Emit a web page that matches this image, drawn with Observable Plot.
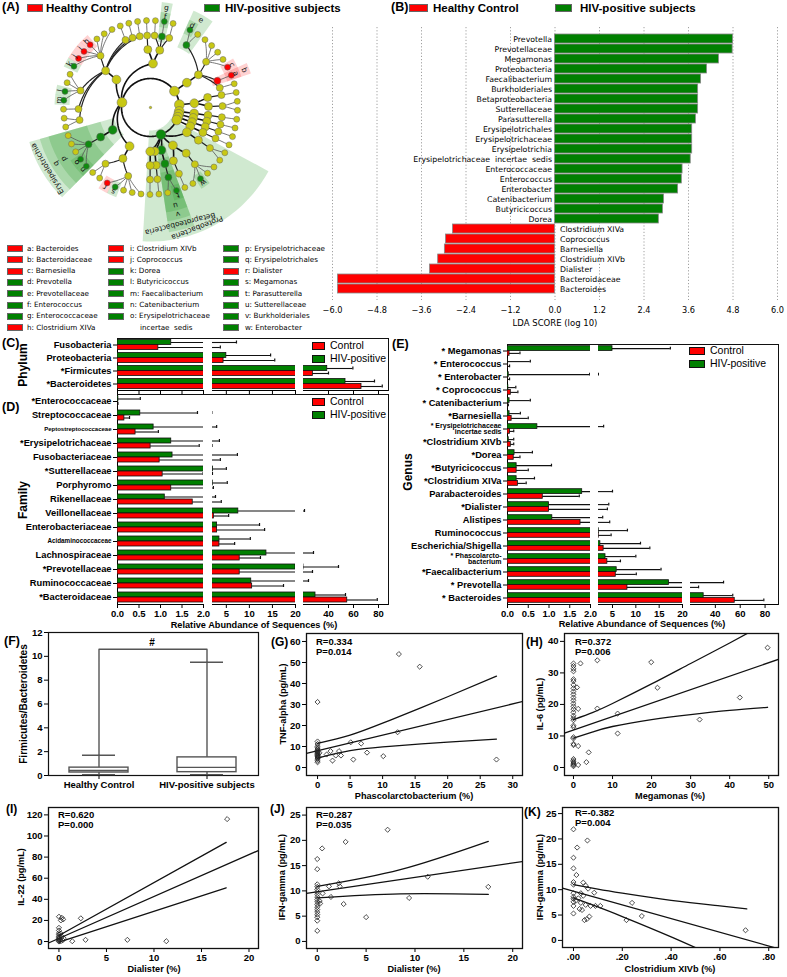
<!DOCTYPE html>
<html><head><meta charset="utf-8">
<script src="https://cdn.jsdelivr.net/npm/d3@7"></script>
<script src="https://cdn.jsdelivr.net/npm/@observablehq/plot@0.6"></script>
<style>
html,body{margin:0;padding:0;background:#fff;}
#fig{position:relative;width:787px;height:977px;overflow:hidden;background:#fff;}
#fig svg{position:absolute;overflow:visible;}
</style></head><body><div id="fig"></div>
<script>
// ================= DATA =================
// ---- Panel A: taxonomy (clockwise order) and LEfSe biomarkers
const cladeTaxa = [
 "Bacteroidetes|Bacteroidia|Bacteroidales|Prevotellaceae|Prevotella",
 "Bacteroidetes|Bacteroidia|Bacteroidales|Prevotellaceae|Paraprevotella",
 "Bacteroidetes|Bacteroidia|Bacteroidales|Porphyromonadaceae|Parabacteroides",
 "Bacteroidetes|Bacteroidia|Bacteroidales|Porphyromonadaceae|Odoribacter",
 "Bacteroidetes|Bacteroidia|Bacteroidales|Porphyromonadaceae|Butyricimonas",
 "Bacteroidetes|Bacteroidia|Bacteroidales|Porphyromonadaceae|Porphyromonas",
 "Bacteroidetes|Bacteroidia|Bacteroidales|Porphyromonadaceae|Barnesiella",
 "Bacteroidetes|Bacteroidia|Bacteroidales|Bacteroidaceae|Bacteroides",
 "Bacteroidetes|Bacteroidia|Bacteroidales|Rikenellaceae|Alistipes",
 "Actinobacteria|Actinobacteria|Bifidobacteriales|Bifidobacteriaceae|Bifidobacterium",
 "Actinobacteria|Actinobacteria|Coriobacteriales|Coriobacteriaceae|Collinsella",
 "Actinobacteria|Actinobacteria|Coriobacteriales|Coriobacteriaceae|Eggerthella",
 "Fusobacteria|Fusobacteriia|Fusobacteriales|Fusobacteriaceae|Fusobacterium",
 "Verrucomicrobia|Verrucomicrobiae|Verrucomicrobiales|Verrucomicrobiaceae|Akkermansia",
 "Synergistetes|Synergistia|Synergistales|Synergistaceae|Cloacibacillus",
 "Lentisphaerae|Lentisphaeria|Victivallales|Victivallaceae|Victivallis",
 "Proteobacteria|Deltaproteobacteria|Desulfovibrionales|Desulfovibrionaceae|Desulfovibrio",
 "Proteobacteria|Deltaproteobacteria|Desulfovibrionales|Desulfovibrionaceae|Bilophila",
 "Proteobacteria|Gammaproteobacteria|Enterobacteriales|Enterobacteriaceae|Escherichia/Shigella",
 "Proteobacteria|Gammaproteobacteria|Enterobacteriales|Enterobacteriaceae|Klebsiella",
 "Proteobacteria|Gammaproteobacteria|Enterobacteriales|Enterobacteriaceae|Enterobacter",
 "Proteobacteria|Gammaproteobacteria|Enterobacteriales|Enterobacteriaceae|Citrobacter",
 "Proteobacteria|Gammaproteobacteria|Pasteurellales|Pasteurellaceae|Haemophilus",
 "Proteobacteria|Betaproteobacteria|Burkholderiales|Sutterellaceae|Parasutterella",
 "Proteobacteria|Betaproteobacteria|Burkholderiales|Sutterellaceae|Sutterella",
 "Proteobacteria|Epsilonproteobacteria|Campylobacterales|Helicobacteraceae|Helicobacter",
 "Proteobacteria|Alphaproteobacteria|Rhodospirillales|Rhodospirillaceae|Azospirillum",
 "Firmicutes|Negativicutes|Selenomonadales|Veillonellaceae|Veillonella",
 "Firmicutes|Negativicutes|Selenomonadales|Veillonellaceae|Megasphaera",
 "Firmicutes|Negativicutes|Selenomonadales|Veillonellaceae|Mitsuokella",
 "Firmicutes|Negativicutes|Selenomonadales|Veillonellaceae|Megamonas",
 "Firmicutes|Negativicutes|Selenomonadales|Veillonellaceae|Dialister",
 "Firmicutes|Negativicutes|Selenomonadales|Acidaminococcaceae|Phascolarctobacterium",
 "Firmicutes|Negativicutes|Selenomonadales|Acidaminococcaceae|Acidaminococcus",
 "Firmicutes|Erysipelotrichia|Erysipelotrichales|Erysipelotrichaceae|Catenibacterium",
 "Firmicutes|Erysipelotrichia|Erysipelotrichales|Erysipelotrichaceae|Erysipelotrichaceae incertae sedis",
 "Firmicutes|Erysipelotrichia|Erysipelotrichales|Erysipelotrichaceae|Holdemania",
 "Firmicutes|Erysipelotrichia|Erysipelotrichales|Erysipelotrichaceae|Turicibacter",
 "Firmicutes|Erysipelotrichia|Erysipelotrichales|Erysipelotrichaceae|Coprobacillus",
 "Firmicutes|Clostridia|Clostridiales|Clostridiaceae|Clostridium sensu stricto",
 "Firmicutes|Clostridia|Clostridiales|Clostridiaceae|SMB53",
 "Firmicutes|Clostridia|Clostridiales|Peptostreptococcaceae|Peptostreptococcus",
 "Firmicutes|Clostridia|Clostridiales|Ruminococcaceae|Faecalibacterium",
 "Firmicutes|Clostridia|Clostridiales|Ruminococcaceae|Butyricicoccus",
 "Firmicutes|Clostridia|Clostridiales|Ruminococcaceae|Ruminococcus",
 "Firmicutes|Clostridia|Clostridiales|Ruminococcaceae|Oscillibacter",
 "Firmicutes|Clostridia|Clostridiales|Lachnospiraceae|Dorea",
 "Firmicutes|Clostridia|Clostridiales|Lachnospiraceae|Coprococcus",
 "Firmicutes|Clostridia|Clostridiales|Lachnospiraceae|Clostridium XIVb",
 "Firmicutes|Clostridia|Clostridiales|Lachnospiraceae|Clostridium XIVa",
 "Firmicutes|Clostridia|Clostridiales|Lachnospiraceae|Roseburia",
 "Firmicutes|Clostridia|Clostridiales|Lachnospiraceae|Blautia",
 "Firmicutes|Clostridia|Clostridiales|Lachnospiraceae|Anaerostipes",
 "Firmicutes|Clostridia|Clostridiales|Eubacteriaceae|Eubacterium",
 "Firmicutes|Clostridia|Clostridiales|Clostridiales Incertae Sedis XIII|Mogibacterium",
 "Firmicutes|Clostridia|Clostridiales|Clostridiales Incertae Sedis XI|Anaerococcus",
 "Firmicutes|Bacilli|Bacillales|Staphylococcaceae|Staphylococcus",
 "Firmicutes|Bacilli|Lactobacillales|Lactobacillaceae|Lactobacillus",
 "Firmicutes|Bacilli|Lactobacillales|Enterococcaceae|Enterococcus",
 "Firmicutes|Bacilli|Lactobacillales|Streptococcaceae|Streptococcus"
];
const healthyMarkers = ["Bacteroides","Bacteroidaceae","Barnesiella","Clostridium XIVa","Clostridium XIVb","Coprococcus","Dialister"];
const hivMarkers = ["Prevotella","Prevotellaceae","Enterococcus","Enterococcaceae","Dorea","Butyricicoccus","Faecalibacterium","Catenibacterium","Erysipelotrichaceae incertae sedis","Erysipelotrichaceae","Erysipelotrichales","Megamonas","Parasutterella","Sutterellaceae","Burkholderiales","Enterobacter","Erysipelotrichia","Betaproteobacteria","Proteobacteria"];
const legendLetters = ["a","b","c","d","e","f","g","h","i","j","k","l","m","n","o","p","q","r","s","t","u","v","w"];
const legendNames = ["Bacteroides","Bacteroidaceae","Barnesiella","Prevotella","Prevotellaceae","Enterococcus","Enterococcaceae","Clostridium XIVa","Clostridium XIVb","Coprococcus","Dorea","Butyricicoccus","Faecalibacterium","Catenibacterium","Erysipelotrichaceae incertae sedis","Erysipelotrichaceae","Erysipelotrichales","Dialister","Megamonas","Parasutterella","Sutterellaceae","Burkholderiales","Enterobacter"];

// ---- Panel B: LDA scores
const ldaNames = ["Prevotella","Prevotellaceae","Megamonas","Proteobacteria","Faecalibacterium","Burkholderiales","Betaproteobacteria","Sutterellaceae","Parasutterella","Erysipelotrichales","Erysipelotrichaceae","Erysipelotrichia","Erysipelotrichaceae  incertae  sedis","Enterococcaceae","Enterococcus","Enterobacter","Catenibacterium","Butyricicoccus","Dorea","Clostridium XIVa","Coprococcus","Barnesiella","Clostridium XIVb","Dialister","Bacteroidaceae","Bacteroides"];
const ldaScores = [4.80,4.79,4.42,4.10,3.94,3.86,3.86,3.86,3.80,3.70,3.70,3.70,3.66,3.44,3.42,3.32,2.94,2.91,2.80,-2.75,-2.94,-2.97,-3.15,-3.37,-5.85,-5.85];
const ldaTicks = [-6.0,-4.8,-3.6,-2.4,-1.2,0,1.2,2.4,3.6,4.8,6.0];

// ---- Panel C: phylum relative abundance (%), mean and mean+SD
const phylumCats = ["Fusobacteria","Proteobacteria","*Firmicutes","*Bacteroidetes"];
const phylumHIV = [1.25, 5.0, 39, 53.6];
const phylumHIVErr = [7.2, 14.6, 59.5, 76.8];
const phylumCtrl = [0.95, 4.4, 27.5, 66.4];
const phylumCtrlErr = [3.7, 15.5, 40, 83];

// ---- Panel D: family
const familyCats = ["*Enterococcaceae","Streptococcaceae","Peptostreptococcaceae","*Erysipelotrichaceae","Fusobacteriaceae","*Sutterellaceae","Porphyromo","Rikenellaceae","Veillonellaceae","Enterobacteriaceae","Acidaminococcaceae","Lachnospiraceae","*Prevotellaceae","Ruminococcaceae","*Bacteroidaceae"];
const familyHIV = [0.02, 0.53, 0.84, 1.25, 1.28, 2.1, 2.05, 1.1, 7.6, 3.0, 3.5, 13.7, 20, 10.4, 29.6];
const familyHIVErr = [0.53, 1.86, 2.9, 3.5, 7.4, 5.0, 5.2, 2.65, 20.8, 12.2, 10.2, 28, 48, 24, 53.6];
const familyCtrl = [0.01, 0.16, 0.42, 0.77, 0.98, 1.05, 1.25, 1.75, 2.3, 3.0, 3.5, 7.9, 7.9, 10.6, 55];
const familyCtrlErr = [0.01, 0.28, 0.95, 1.9, 3.7, 1.99, 2.2, 3.9, 5.5, 13.3, 6.8, 12.4, 27.2, 17.4, 79];

// ---- Panel E: genus
const genusCats = ["* Megamonas","* Enterococcus","* Enterobacter","* Coprococcus","* Catenibacterium","*Barnesiella","* Erysipelotrichaceae\nincertae sedis","*Clostridium XIVb","*Dorea","*Butyricicoccus","*Clostridium XIVa","Parabacteroides","*Dialister","Alistipes","Ruminococcus","Escherichia/Shigella","* Phascolarcto-\nbacterium","*Faecalibacterium","* Prevotella","* Bacteroides"];
const genusHIV = [5.0, 0.01, 0.03, 0.02, 0.05, 0.05, 0.72, 0.03, 0.17, 0.22, 0.22, 1.8, 1.0, 1.08, 2.05, 2.4, 3.5, 5.9, 17.1, 30.6];
const genusHIVErr = [17.4, 0.55, 1.98, 0.2, 0.55, 0.31, 3.1, 0.15, 0.6, 1.06, 0.65, 5.0, 4.2, 2.9, 8.2, 11, 10, 15.4, 46.6, 54];
const genusCtrl = [0.05, 0.005, 0.01, 0.08, 0.005, 0.1, 0.06, 0.08, 0.15, 0.22, 0.25, 0.85, 1.0, 1.76, 2.05, 3.1, 3.9, 5.7, 8.2, 55.6];
const genusCtrlErr = [0.3, 0.05, 0.05, 0.25, 0.02, 0.5, 0.15, 0.15, 0.3, 0.5, 0.45, 1.73, 3.9, 4.4, 4.7, 13, 6.7, 10.1, 26.5, 79];

// ---- Panel F: Firmicutes/Bacteroidetes box plot summary
const fGroups = ["Healthy Control","HIV-positive subjects"];
const fLow = [0.07, 0.07];
const fQ1 = [0.25, 0.28];
const fMed = [0.42, 0.68];
const fQ3 = [0.66, 1.52];
const fHigh = [1.7, 9.5];
const fBracket = 10.6;

// ---- Panels G-K: scatter points [x, y], regression line ends, 95% CI curves
const gPoints = [[0,31.2],[0,12.4],[0,11.2],[0,10.1],[0,9.4],[0,8.8],[0,8.2],[0,7.8],[0,7.4],[0,7.0],[0,6.6],[0,6.2],[0,5.8],[0,5.4],[0,5.0],[0,4.5],[0,4.0],[0,3.2],[0,2.5],[0.2,5.0],[0.3,7.0],[1.4,6.2],[2.0,7.8],[2.3,3.3],[2.8,5.7],[3.3,7.8],[3.6,5.7],[5.1,12.0],[5.5,3.8],[6.7,11.4],[7.6,7.1],[10.1,5.4],[12.3,16.8],[12.5,54],[15.7,48],[27.5,3.8]];
const gFitX = [-1.7, 31.5], gFitY = [6.7, 31.4];
const gBandX = [0,5,10,15,20,27.5], gUpper = [11.5,15.4,21.1,27.3,33.7,43.5], gLower = [4.5,8.0,9.8,11.0,12.1,13.5];

const hPoints = [[0,33],[0,32.2],[0,31.3],[0,30.5],[0,28],[0,27.4],[0,26.2],[0,25.1],[0,24.1],[0,23.2],[0,22.2],[0,21.3],[0,20.3],[0,19.4],[0,18.5],[0,17.5],[0,16.4],[0,15.6],[0,15.0],[0,13.3],[0,12.8],[0,9.6],[0,9.2],[0,7.5],[0,7.1],[0,2.7],[0,2.2],[0,1.8],[0,1.4],[0,1.0],[0,0.7],[0,0.4],[0.9,25.4],[1.8,33],[1.2,18.6],[1.2,6.8],[1.2,0.8],[3.3,1.7],[3.9,4.8],[6.1,34],[6.1,18.7],[11.3,17.1],[11.3,10.8],[19.9,33.4],[21.5,25.3],[32.3,15.2],[42.6,22.2],[49.7,38]];
const hFitX = [-2.3, 52.5], hFitY = [10.9, 34.3];
const hBandX = [0,5,10,20,30,40,49.7], hUpper = [15.2,17.5,20.3,26.5,33,39.5,46], hLower = [9.3,11.3,13.0,15.2,16.8,18.1,19.1];

const iPoints = [[0,23.5],[0,13],[0,10.5],[0,8],[0,6.5],[0,5],[0,4],[0,3],[0,2.2],[0,1.4],[0,0.6],[0,0],[0.2,20],[0.45,21],[0.3,22.5],[0.2,7.5],[0.3,4.5],[0.5,3.2],[0.4,1.2],[0.2,0.3],[1.4,0.3],[2.3,22],[2.8,1.6],[7.2,1.6],[11.3,0.3],[17.7,116]];
const iFitX = [-1.1, 21], iFitY = [-1.4, 86.3];
const iBandX = [0, 17.6], iUpper = [5.7, 94], iLower = [-0.6, 50.9];

const jPoints = [[0,16.3],[0,14.3],[0,11.3],[0,10.8],[0,10.3],[0,9.8],[0,9.3],[0,8.8],[0,8.3],[0,7.8],[0,7.3],[0,6.8],[0,6.3],[0,5.8],[0,5.3],[0,4.8],[0,4.1],[0,2.1],[0.5,18.4],[0.55,9.5],[0.3,7.5],[0.25,8.0],[1.2,10.9],[1.4,8.8],[2.2,11.5],[2.3,10.9],[2.7,7.4],[2.9,19.7],[5.0,4.8],[7.2,22.1],[9.4,8.6],[11.3,12.8],[17.5,10.8]];
const jFitX = [-1.1, 21], jFitY = [9.5, 15.8];
const jBandX = [0, 8.5, 17.5], jUpper = [10.9, 14.2, 19.8], jLower = [8.6, 9.4, 9.3];

const kPoints = [[0,21.9],[0,16.3],[0,14.2],[0,11.5],[0,11.0],[0,9.3],[0,8.6],[0,8.2],[0,7.6],[0,6.8],[0,5.3],[0.015,18.3],[0.057,19.7],[0.012,12.9],[0.04,11.4],[0.05,10.8],[0.06,10.2],[0.03,9.3],[0.085,9.4],[0.04,8.8],[0.02,8.3],[0.01,7.8],[0.03,7.4],[0.05,7.0],[0.07,6.8],[0.09,6.8],[0.11,6.8],[0.025,6.2],[0.035,6.0],[0.045,4.0],[0.055,4.2],[0.065,4.7],[0.217,4.0],[0.24,7.4],[0.28,4.8],[0.705,2.0]];
const kFitX = [-0.045, 0.84], kFitY = [10.3, -1.65];
const kBandX = [0,0.1,0.2,0.4,0.6,0.71], kUpper = [11,10.1,9.3,7.9,6.8,6.2], kLower = [8.4,6.6,4.7,0.7,-3.6,-6.0];

// ================= DRAWING =================
const AR = '"Liberation Sans", Arial, Helvetica, sans-serif';
const DJ = '"DejaVu Sans", Verdana, sans-serif';
const GREEN = "#008000", RED = "#ff0000";
const fig = document.getElementById("fig");

function put(el, x, y) { el.style.position = "absolute"; el.style.left = x + "px"; el.style.top = y + "px"; fig.appendChild(el); return el; }
function txt(s, x, y, o = {}) {
  const d = document.createElement("div");
  d.textContent = s;
  const size = o.size ?? 10, weight = o.weight ?? "bold", fam = o.fam ?? AR, anchor = o.anchor ?? "start";
  d.style.cssText = `position:absolute;left:${x}px;top:${y}px;white-space:pre;font-family:${fam};font-size:${size}px;font-weight:${weight};line-height:1.05;color:#000;`;
  const tx = anchor === "start" ? "0%" : anchor === "middle" ? "-50%" : "-100%";
  d.style.transform = `translate(${tx},-50%)` + (o.rot ? ` rotate(${o.rot}deg)` : "");
  fig.appendChild(d);
  return d;
}
function swatch(x, y, w, h, color, border = "#222") {
  const d = document.createElement("div");
  d.style.cssText = `position:absolute;left:${x}px;top:${y}px;width:${w}px;height:${h}px;background:${color};border:1px solid ${border};box-sizing:border-box;`;
  fig.appendChild(d);
}
function frameBox(x, y, w, h) {
  const d = document.createElement("div");
  d.style.cssText = `position:absolute;left:${x}px;top:${y}px;width:${w}px;height:${h}px;border-top:1px solid #111;border-right:1px solid #111;box-sizing:border-box;`;
  fig.appendChild(d);
}
const PS = (o = {}) => Object.assign({fontFamily: AR, fontSize: "9.5px", fontWeight: "bold", color: "#000", background: "transparent", overflow: "visible"}, o);

// ---------- Panel A: cladogram ----------
(function () {
  const rootObj = {name: "Bacteria", children: []};
  for (const p of cladeTaxa) {
    let n = rootObj;
    for (const part of p.split("|")) {
      let c = n.children.find(d => d.name === part);
      if (!c) { c = {name: part, children: []}; n.children.push(c); }
      n = c;
    }
  }
  const tree = d3.hierarchy(rootObj, d => d.children.length ? d.children : null);
  const nLeaves = tree.leaves().length;
  const step = 360 / nLeaves;
  d3.cluster().size([360 - step, 1]).separation(() => 1)(tree);
  const ringR = [0, 29, 44, 58, 72, 87];
  const nodeR = [1.2, 4.9, 4.4, 4.0, 3.5, 3.0];
  const wedgeOut = [0, 134, 126, 115, 106, 96];
  const labelR = [0, 129, 120, 110, 101, 92];
  const rot = 24;
  const rad = Math.PI / 180;
  const polar = (r, a) => ({x: r * Math.sin(a * rad), y: r * Math.cos(a * rad)});
  const letterOf = new Map(legendNames.map((n, i) => [n, legendLetters[i]]));
  tree.each(n => {
    n.ang = n.x + rot; n.rad = ringR[n.depth];
    const nm = n.data.name;
    n.col = n.depth === 0 ? "yellow" : healthyMarkers.includes(nm) ? "red" : hivMarkers.includes(nm) ? "green" : "yellow";
  });

  const ring = [];
  for (let i = 0; i <= 240; i++) { const p = polar(ringR[1], i * 1.5); ring.push({x: p.x, y: p.y}); }
  const links = [];
  let lid = 0;
  tree.each(n => {
    if (!n.parent || n.parent.depth === 0) return;
    const p = n.parent, id = lid++;
    const K = Math.max(3, Math.ceil(Math.abs(n.ang - p.ang) / 1.2));
    for (let i = 0; i <= K; i++) {
      const t = i / K;
      const q = polar(p.rad + (n.rad - p.rad) * t, p.ang + (n.ang - p.ang) * t);
      links.push({id, x: q.x, y: q.y, lvl: p.depth});
    }
  });
  const wedgesG = [], wedgesR = [], labels = [];
  tree.each(n => {
    if (n.col === "yellow" || n.depth === 0) return;
    const la = n.leaves().map(l => l.ang);
    const a1 = Math.min(...la) - step / 2, a2 = Math.max(...la) + step / 2;
    const rIn = n.rad - 6, rOut = wedgeOut[n.depth];
    const id = n.data.name + n.depth;
    const target = n.col === "green" ? wedgesG : wedgesR;
    const k = Math.max(2, Math.ceil((a2 - a1) / 1.5));
    for (let i = 0; i <= k; i++) { const p = polar(rOut, a1 + (a2 - a1) * i / k); target.push({id, x: p.x, y: p.y}); }
    for (let i = k; i >= 0; i--) { const p = polar(rIn, a1 + (a2 - a1) * i / k); target.push({id, x: p.x, y: p.y}); }
    const lp = polar(labelR[n.depth], n.ang);
    labels.push({x: lp.x, y: lp.y, text: n.depth <= 2 ? n.data.name : (letterOf.get(n.data.name) || ""), rotate: n.ang});
  });
  const nodes = [];
  tree.each(n => {
    const p = polar(n.rad, n.ang);
    nodes.push({x: p.x, y: p.y, r: nodeR[n.depth], fill: n.col === "red" ? RED : n.col === "green" ? "#0f8a0f" : "#c8c814", depth: n.depth});
  });
  nodes.sort((a, b) => b.depth - a.depth);
  const svg = Plot.plot({
    width: 280, height: 240, margin: 0,
    x: {domain: [-150, 130], axis: null},
    y: {domain: [-133, 107], axis: null},
    r: {type: "identity"},
    style: PS({fontFamily: DJ, fontSize: "7.5px", fontWeight: "normal"}),
    marks: [
      Plot.line(wedgesG, {x: "x", y: "y", z: "id", fill: "#2a9d2a", fillOpacity: 0.22, stroke: "none"}),
      Plot.line(wedgesR, {x: "x", y: "y", z: "id", fill: "#ff2020", fillOpacity: 0.2, stroke: "none"}),
      Plot.line(ring, {x: "x", y: "y", stroke: "#111", strokeWidth: 1.7}),
      Plot.line(links.filter(d => d.lvl <= 2), {x: "x", y: "y", z: "id", stroke: "#111", strokeWidth: 1.6}),
      Plot.line(links.filter(d => d.lvl === 3), {x: "x", y: "y", z: "id", stroke: "#222", strokeWidth: 1.2}),
      Plot.line(links.filter(d => d.lvl >= 4), {x: "x", y: "y", z: "id", stroke: "#555", strokeWidth: 0.8}),
      Plot.dot(nodes, {x: "x", y: "y", r: "r", fill: "fill", stroke: "#666", strokeWidth: 0.5}),
      Plot.text(labels, {x: "x", y: "y", text: "text", rotate: "rotate", fill: "#111"})
    ]
  });
  put(svg, 0, 0);
})();

// header A
txt("(A)", 2, 8, {size: 12.5});
swatch(27, 4, 16, 8, RED, "#666");
txt("Healthy Control", 46, 8, {size: 11.5});
swatch(204, 4, 16, 8, GREEN, "#666");
txt("HIV-positive subjects", 225, 8, {size: 11.5});
// legend A
legendLetters.forEach((l, i) => {
  const col = i < 8 ? 0 : i < 15 ? 1 : 2;
  const row = i < 8 ? i : i < 15 ? i - 8 : i - 15;
  const bx = [7, 108, 223][col], tx = [27, 130, 245][col];
  const y = 248.5 + row * 11.3;
  const name = legendNames[i];
  const color = healthyMarkers.includes(name) ? RED : GREEN;
  swatch(bx, y - 3.5, 16, 7, color, "#666");
  const shown = name === "Erysipelotrichaceae incertae sedis" ? "Erysipelotrichaceae" : name;
  txt(l + ": " + shown, tx, y, {size: 7.2, weight: "normal", fam: DJ});
  if (name === "Erysipelotrichaceae incertae sedis") txt("incertae  sedis", 140, y + 11.3, {size: 7.2, weight: "normal", fam: DJ});
});

// ---------- Panel B ----------
(function () {
  const rows = ldaNames.map((n, i) => ({name: n, score: ldaScores[i]}));
  const L = 332, R = 777, T = 27, B = 300, mL = 12, mR = 10, mB = 22;
  const svg = Plot.plot({
    width: mL + (R - L) + mR, height: (B - T) + mB,
    marginLeft: mL, marginRight: mR, marginTop: 0, marginBottom: mB,
    style: PS({fontFamily: DJ, fontSize: "8.2px", fontWeight: "normal"}),
    x: {domain: [-6, 6], ticks: ldaTicks, tickFormat: d3.format(".1f"), tickSize: 0, tickPadding: 7, label: null},
    y: {domain: ldaNames, axis: null, paddingInner: 0.12, paddingOuter: 0.6},
    marks: [
      Plot.ruleX(ldaTicks, {stroke: "#888", strokeDasharray: "1.2,2", strokeWidth: 0.8}),
      Plot.barX(rows, {y: "name", x: "score", fill: d => d.score > 0 ? GREEN : RED, stroke: "#888", strokeWidth: 0.8}),
      Plot.text(rows.filter(d => d.score > 0), {y: "name", x: 0, text: "name", textAnchor: "end", dx: -3, fontSize: 7.8}),
      Plot.text(rows.filter(d => d.score < 0), {y: "name", x: 0, text: "name", textAnchor: "start", dx: 5, fontSize: 7.8})
    ]
  });
  put(svg, L - mL, T);
})();
txt("(B)", 391, 8, {size: 12.5});
swatch(409, 4, 19, 8, RED, "#666");
txt("Healthy Control", 433, 8, {size: 11.5});
swatch(555, 4, 17, 8, GREEN, "#666");
txt("HIV-positive subjects", 580, 8, {size: 11.5});
txt("LDA SCORE (log 10)", 555, 323, {size: 8.5, weight: "normal", fam: DJ, anchor: "middle"});

// ---------- Panels C, D, E (broken axis bars) ----------
const segsCD = [
  {domain: [0, 2], left: 117, right: 203, ticks: [0, 0.5, 1, 1.5, 2], fmt: d3.format(".1f")},
  {domain: [2, 20], left: 212, right: 295, ticks: [5, 10, 15, 20], fmt: d3.format("d")},
  {domain: [20, 88], left: 303, right: 388, ticks: [40, 60, 80], fmt: d3.format("d")}
];
const segsE = [
  {domain: [0, 2], left: 507, right: 590, ticks: [0, 0.5, 1, 1.5, 2], fmt: d3.format(".1f")},
  {domain: [2, 20], left: 598, right: 682, ticks: [5, 10, 15, 20], fmt: d3.format("d")},
  {domain: [20, 90], left: 690, right: 777, ticks: [40, 60, 80], fmt: d3.format("d")}
];
const smallLabel = {"Peptostreptococcaceae": 6, "Acidaminococcaceae": 6.3, "* Erysipelotrichaceae\nincertae sedis": 7, "* Phascolarcto-\nbacterium": 7};
function broken({cats, hiv, hivErr, ctrl, ctrlErr, top, rowH, segs, regionLeft, tickLabels, bh}) {
  const rows = cats.map((c, i) => ({cat: c, hiv: hiv[i], hivErr: hivErr[i], ctrl: ctrl[i], ctrlErr: ctrlErr[i]}));
  const h = rowH * cats.length, half = rowH / 2;
  segs.forEach((s, k) => {
    const first = k === 0;
    const mL = first ? s.left - regionLeft : 1, mR = 1, mB = tickLabels ? 20 : 5;
    const svg = Plot.plot({
      width: mL + (s.right - s.left) + mR, height: h + mB,
      marginLeft: mL, marginRight: mR, marginTop: 0, marginBottom: mB,
      style: PS(),
      x: {domain: s.domain, ticks: s.ticks, tickFormat: tickLabels ? s.fmt : () => "", tickSize: 4, tickPadding: 2, line: true, label: null},
      y: {domain: cats, padding: 0, axis: first ? "left" : null, tickSize: 4, tickFormat: () => "", line: true, label: null},
      marks: [
        Plot.barX(rows, {y: "cat", x1: 0, x2: "hiv", fill: GREEN, stroke: "#111", strokeWidth: 0.8, insetTop: half - bh, insetBottom: half, clip: true}),
        Plot.barX(rows, {y: "cat", x1: 0, x2: "ctrl", fill: RED, stroke: "#111", strokeWidth: 0.8, insetTop: half, insetBottom: half - bh, clip: true}),
        Plot.ruleY(rows, {y: "cat", x1: "hiv", x2: "hivErr", dy: -bh / 2, stroke: "#111", strokeWidth: 1.1, clip: true}),
        Plot.ruleY(rows, {y: "cat", x1: "ctrl", x2: "ctrlErr", dy: bh / 2, stroke: "#111", strokeWidth: 1.1, clip: true}),
        Plot.tickX(rows, {y: "cat", x: "hivErr", insetTop: half - bh + 1, insetBottom: half + 1, stroke: "#111", strokeWidth: 1.2, clip: true}),
        Plot.tickX(rows, {y: "cat", x: "ctrlErr", insetTop: half + 1, insetBottom: half - bh + 1, stroke: "#111", strokeWidth: 1.2, clip: true}),
        first ? Plot.text(cats, {y: d => d, text: d => d, frameAnchor: "left", textAnchor: "end", dx: -6, fontSize: d => smallLabel[d] ?? 9.3, lineHeight: 0.95}) : null
      ]
    });
    put(svg, s.left - mL, top);
  });
}
broken({cats: phylumCats, hiv: phylumHIV, hivErr: phylumHIVErr, ctrl: phylumCtrl, ctrlErr: phylumCtrlErr, top: 338, rowH: 13, segs: segsCD, regionLeft: 0, tickLabels: false, bh: 5});
broken({cats: familyCats, hiv: familyHIV, hivErr: familyHIVErr, ctrl: familyCtrl, ctrlErr: familyCtrlErr, top: 394, rowH: 14, segs: segsCD, regionLeft: 0, tickLabels: true, bh: 5});
broken({cats: genusCats, hiv: genusHIV, hivErr: genusHIVErr, ctrl: genusCtrl, ctrlErr: genusCtrlErr, top: 344, rowH: 13, segs: segsE, regionLeft: 393, tickLabels: true, bh: 4.8});
frameBox(117, 338, 272, 53);
frameBox(117, 394, 272, 211);
frameBox(507, 344, 272, 261);
txt("(C)", 2, 344, {size: 12.5});
txt("(D)", 2, 408, {size: 12.5});
txt("(E)", 392, 345, {size: 12.5});
txt("Phylum", 23, 365, {size: 12, anchor: "middle", rot: -90});
txt("Family", 23, 500, {size: 12, anchor: "middle", rot: -90});
txt("Genus", 408, 472, {size: 12, anchor: "middle", rot: -90});
txt("Relative Abundance of Sequences (%)", 254, 626, {size: 9.2, anchor: "middle"});
txt("Relative Abundance of Sequences (%)", 642, 625, {size: 9.2, anchor: "middle"});
[[312, 346], [312, 402], [689, 351]].forEach(([x, y]) => {
  const w = x > 600 ? 16 : 13;
  swatch(x, y - 3.8, w, 7.5, RED, "#111");
  swatch(x, y + 9.2, w, 7.5, GREEN, "#111");
  txt("Control", x + w + 5, y, {size: 10.5, weight: "normal"});
  txt("HIV-positive", x + w + 5, y + 13, {size: 10.5, weight: "normal"});
});

// ---------- Panel F ----------
(function () {
  const rows = fGroups.map((g, i) => ({g, lo: fLow[i], q1: fQ1[i], med: fMed[i], q3: fQ3[i], hi: fHigh[i]}));
  const bracket = [{g: fGroups[0], y: fHigh[0]}, {g: fGroups[0], y: fBracket}, {g: fGroups[1], y: fBracket}, {g: fGroups[1], y: fHigh[1]}];
  const L = 48, R = 258, T = 632, B = 775, mL = 30, mR = 3, mT = 3, mB = 20;
  const GL = "#555";
  const svg = Plot.plot({
    width: mL + (R - L) + mR, height: mT + (B - T) + mB,
    marginLeft: mL, marginRight: mR, marginTop: mT, marginBottom: mB,
    style: PS(),
    x: {domain: fGroups, range: [mL - 29, mL + 238], padding: 0.45, tickSize: 4, tickPadding: 2, label: null},
    y: {domain: [0, 12], ticks: [0, 2, 4, 6, 8, 10, 12], tickSize: 4, tickPadding: 2, label: null},
    marks: [
      Plot.frame({stroke: "#111", strokeWidth: 1.2}),
      Plot.ruleX(rows, {x: "g", y1: "lo", y2: "hi", stroke: GL, strokeWidth: 1.4}),
      Plot.barY(rows, {x: "g", y1: "q1", y2: "q3", fill: "white", stroke: GL, strokeWidth: 1.4}),
      Plot.tickY(rows, {x: "g", y: "med", stroke: GL, strokeWidth: 1.4}),
      Plot.tickY(rows, {x: "g", y: "hi", insetLeft: 13, insetRight: 13, stroke: GL, strokeWidth: 1.4}),
      Plot.tickY(rows, {x: "g", y: "lo", insetLeft: 13, insetRight: 13, stroke: GL, strokeWidth: 1.4}),
      Plot.line(bracket, {x: "g", y: "y", stroke: GL, strokeWidth: 1.4})
    ]
  });
  put(svg, L - mL, T - mT);
})();
txt("(F)", 4, 642, {size: 12.5});
txt("#", 152, 643, {size: 10, anchor: "middle"});
txt("Firmicutes/Bacteroidetes", 24, 704, {size: 10, anchor: "middle", rot: -90});

// ---------- Scatter panels G-K ----------
function scatter({left, right, top, bottom, xd, yd, xt, yt, xfmt, pts, fitX, fitY, bandX, upper, lower}) {
  const mL = 30, mR = 3, mT = 3, mB = 20;
  const P = pts.map(([x, y]) => ({x, y}));
  const fit = fitX.map((x, i) => ({x, y: fitY[i]}));
  const up = bandX.map((x, i) => ({x, y: upper[i]}));
  const lo = bandX.map((x, i) => ({x, y: lower[i]}));
  const svg = Plot.plot({
    width: mL + (right - left) + mR, height: mT + (bottom - top) + mB,
    marginLeft: mL, marginRight: mR, marginTop: mT, marginBottom: mB,
    style: PS(),
    x: {domain: xd, ticks: xt, tickFormat: xfmt, tickSize: 4, tickPadding: 1.5, label: null},
    y: {domain: yd, ticks: yt, tickSize: 4, tickPadding: 2, label: null},
    marks: [
      Plot.frame({stroke: "#111", strokeWidth: 1.3}),
      Plot.line(fit, {x: "x", y: "y", stroke: "#111", strokeWidth: 1.3, clip: true}),
      Plot.line(up, {x: "x", y: "y", stroke: "#111", strokeWidth: 1.3, curve: "natural", clip: true}),
      Plot.line(lo, {x: "x", y: "y", stroke: "#111", strokeWidth: 1.3, curve: "natural", clip: true}),
      Plot.dot(P, {x: "x", y: "y", symbol: "diamond2", r: 2.3, stroke: "#222", strokeWidth: 0.8, fill: "none"})
    ]
  });
  put(svg, left - mL, top - mT);
}
const intFmt = d3.format("d");
scatter({left: 306, right: 522, top: 633, bottom: 775, xd: [-1.7, 31.5], yd: [-3.8, 63.8], xt: [0,5,10,15,20,25,30], yt: [0,10,20,30,40,50,60], xfmt: intFmt, pts: gPoints, fitX: gFitX, fitY: gFitY, bandX: gBandX, upper: gUpper, lower: gLower});
scatter({left: 564, right: 778, top: 633, bottom: 775, xd: [-2.3, 52.5], yd: [-2.54, 42.5], xt: [0,10,20,30,40,50], yt: [0,10,20,30,40], xfmt: intFmt, pts: hPoints, fitX: hFitX, fitY: hFitY, bandX: hBandX, upper: hUpper, lower: hLower});
scatter({left: 48, right: 258, top: 807, bottom: 948, xd: [-1.1, 21], yd: [-6.6, 127], xt: [0,5,10,15,20], yt: [0,20,40,60,80,100,120], xfmt: intFmt, pts: iPoints, fitX: iFitX, fitY: iFitY, bandX: iBandX, upper: iUpper, lower: iLower});
scatter({left: 306, right: 522, top: 807, bottom: 948, xd: [-1.1, 21], yd: [-1.4, 26.5], xt: [0,5,10,15,20], yt: [0,5,10,15,20,25], xfmt: intFmt, pts: jPoints, fitX: jFitX, fitY: jFitY, bandX: jBandX, upper: jUpper, lower: jLower});
scatter({left: 562, right: 778, top: 807, bottom: 947, xd: [-0.045, 0.84], yd: [-1.4, 26.2], xt: [0,0.2,0.4,0.6,0.8], yt: [0,5,10,15,20,25], xfmt: d => d3.format(".2f")(d).replace(/^0/, ""), pts: kPoints, fitX: kFitX, fitY: kFitY, bandX: kBandX, upper: kUpper, lower: kLower});

txt("(G)", 271, 642, {size: 12});
txt("R=0.334\nP=0.014", 316, 647, {size: 9.5});
txt("TNF-alpha (pg/mL)", 284, 704, {size: 9.2, anchor: "middle", rot: -90});
txt("Phascolarctobacterium (%)", 414, 797, {size: 9.2, anchor: "middle"});

txt("(H)", 526, 642, {size: 12});
txt("R=0.372\nP=0.006", 575, 647, {size: 9.5});
txt("IL-6 (pg/mL)", 541, 704, {size: 9.2, anchor: "middle", rot: -90});
txt("Megamonas (%)", 670, 797, {size: 9.2, anchor: "middle"});

txt("(I)", 6, 809, {size: 12});
txt("R=0.620\nP=0.000", 58, 820, {size: 9.5});
txt("IL-22 (pg/mL)", 22, 877, {size: 9.2, anchor: "middle", rot: -90});
txt("Dialister (%)", 154, 970, {size: 9.2, anchor: "middle"});

txt("(J)", 270, 809, {size: 12});
txt("R=0.287\nP=0.035", 316, 820, {size: 9.5});
txt("IFN-gamma (pg/mL)", 283, 877, {size: 9.2, anchor: "middle", rot: -90});
txt("Dialister (%)", 414, 970, {size: 9.2, anchor: "middle"});

txt("(K)", 524, 812, {size: 12});
txt("R=-0.382\nP=0.004", 575, 818, {size: 9.5});
txt("IFN-gamma (pg/mL)", 541, 877, {size: 9.2, anchor: "middle", rot: -90});
txt("Clostridium XIVb (%)", 670, 970, {size: 9.2, anchor: "middle"});
</script></body></html>
